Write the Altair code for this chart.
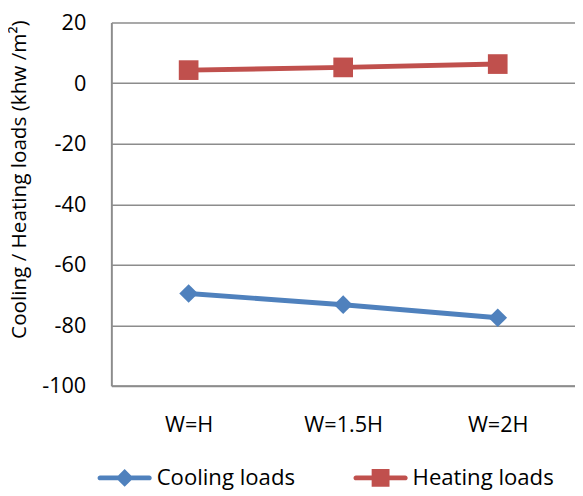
import altair as alt
import pandas as pd

categories = ["W=H", "W=1.5H", "W=2H"]
cooling = [-69.5, -73.2, -77.5]
heating = [4.3, 5.2, 6.3]
series_names = ["Cooling loads", "Heating loads"]
colors = ["#4F81BD", "#C0504D"]
y_ticks = [-100, -80, -60, -40, -20, 0, 20]
y_title = "Cooling / Heating loads (khw /m²)"

rows = []
for c, v in zip(categories, cooling):
    rows.append({"cat": c, "val": v, "series": series_names[0]})
for c, v in zip(categories, heating):
    rows.append({"cat": c, "val": v, "series": series_names[1]})
df = pd.DataFrame(rows)

# legend symbol: a line with a marker (unit box = 55px wide)
bar = ("M-0.91,-0.09 L0.91,-0.09 A0.09,0.09 0 0 1 0.91,0.09 "
       "L-0.91,0.09 A0.09,0.09 0 0 1 -0.91,-0.09 Z ")
cool_path = bar + "M0,-0.33 L0.33,0 L0,0.33 L-0.33,0 Z"
heat_path = bar + "M-0.33,-0.33 L0.33,-0.33 L0.33,0.33 L-0.33,0.33 Z"

legend = alt.Legend(
    title=None, orient="none", legendX=-14, legendY=435, direction="horizontal",
    symbolSize=3025, symbolStrokeWidth=0, symbolOpacity=1, labelFontSize=22.5,
    labelColor="#000000", labelOffset=5, columnPadding=58, labelFont="Open Sans",
)

color = alt.Color("series:N", scale=alt.Scale(domain=series_names, range=colors), legend=legend)
shape = alt.Shape("series:N", scale=alt.Scale(domain=series_names, range=[cool_path, heat_path]), legend=legend)

x = alt.X("cat:N", sort=categories,
          axis=alt.Axis(title=None, labelAngle=0, ticks=False, grid=False,
                        labelPadding=29, labelFontSize=22, labelColor="#000000",
                        domainColor="#8c8c8c", domainWidth=2))
y = alt.Y("val:Q", scale=alt.Scale(domain=[-100, 20], nice=False, zero=False),
          axis=alt.Axis(values=y_ticks, title=y_title, ticks=False, grid=True,
                        labelExpr="'' + datum.value",
                        gridColor="#8c8c8c", gridWidth=1.5, domainColor="#8c8c8c",
                        domainWidth=2, labelPadding=26, labelFontSize=22,
                        labelColor="#000000", titleFontSize=21, titleFontWeight="normal",
                        titleColor="#000000", titleX=-93, titleY=159,
                        titleBaseline="middle"))

base = alt.Chart(df).encode(x=x, y=y, color=color)

legend_layer = base.mark_point(filled=True, size=1, opacity=1).encode(shape=shape)
lines = base.mark_line(strokeWidth=5)
pts_c = base.transform_filter(alt.datum.series == series_names[0]).mark_point(
    shape="diamond", filled=True, size=361, opacity=1)
pts_h = base.transform_filter(alt.datum.series == series_names[1]).mark_point(
    shape="square", filled=True, size=400, opacity=1)

chart = alt.layer(legend_layer, lines, pts_c, pts_h).properties(
    width=471, height=369,
    autosize=alt.AutoSizeParams(type="none"),
    padding={"left": 105, "top": 11, "right": 0, "bottom": 103},
).configure(font="Open Sans").configure_view(stroke=None)

chart.save("out.html", embed_options={"renderer": "svg", "actions": False})
